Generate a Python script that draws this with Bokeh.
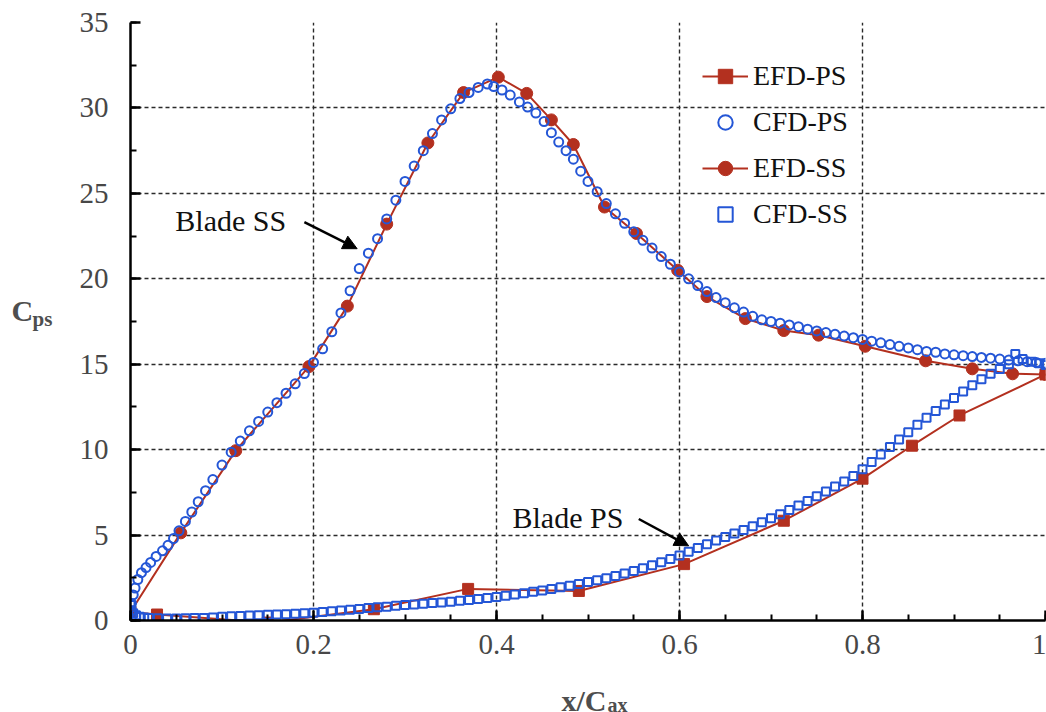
from bokeh.plotting import figure
from bokeh.layouts import row, column
from bokeh.models import (Range1d, SingleIntervalTicker, CustomJSTickFormatter, Legend,
                          LegendItem, Label, Arrow, NormalHead)
from bokeh.core.properties import value
from bokeh.embed import file_html
from bokeh.resources import INLINE

# ---------------- data ----------------
efd_ps_x = [0.000, 0.029, 0.150, 0.266, 0.369, 0.490, 0.605, 0.714, 0.800, 0.854, 0.906, 1.000]
efd_ps_y = [0.50, 0.35, -0.12, 0.66, 1.85, 1.73, 3.30, 5.84, 8.30, 10.23, 12.00, 14.40]

efd_ss_x = [0.000, 0.055, 0.115, 0.195, 0.237, 0.280, 0.325, 0.364, 0.402, 0.433, 0.460, 0.484,
            0.518, 0.553, 0.598, 0.630, 0.672, 0.714, 0.752, 0.803, 0.869, 0.920, 0.964, 1.000]
efd_ss_y = [0.50, 5.13, 9.94, 14.86, 18.40, 23.20, 27.95, 30.90, 31.80, 30.85, 29.30, 27.86,
            24.20, 22.65, 20.50, 18.96, 17.67, 16.97, 16.70, 16.05, 15.20, 14.73, 14.44, 14.40]

cfd_ss_x = [0.000, 0.001, 0.003, 0.005, 0.008, 0.012, 0.017, 0.022, 0.028, 0.035, 0.041, 0.047,
            0.053, 0.060, 0.067, 0.074, 0.082, 0.090, 0.100, 0.110, 0.120, 0.130, 0.140, 0.150,
            0.160, 0.170, 0.180, 0.190, 0.200, 0.210, 0.220, 0.230, 0.240, 0.250, 0.260, 0.270,
            0.280, 0.290, 0.300, 0.310, 0.320, 0.330, 0.340, 0.350, 0.360, 0.370, 0.380, 0.390,
            0.397, 0.406, 0.415, 0.425, 0.434, 0.443, 0.452, 0.460, 0.468, 0.476, 0.484, 0.492,
            0.500, 0.510, 0.520, 0.530, 0.540, 0.550, 0.560, 0.570, 0.580, 0.590, 0.600, 0.610,
            0.620, 0.630, 0.640, 0.650, 0.660, 0.670, 0.680, 0.690, 0.700, 0.710, 0.720, 0.730,
            0.740, 0.750, 0.760, 0.770, 0.780, 0.790, 0.800, 0.810, 0.820, 0.830, 0.840, 0.850,
            0.860, 0.870, 0.880, 0.890, 0.900, 0.910, 0.920, 0.930, 0.940, 0.950, 0.960, 0.970,
            0.980, 0.990, 1.000]
cfd_ss_y = [0.50, 1.00, 1.50, 1.90, 2.40, 2.80, 3.10, 3.40, 3.75, 4.08, 4.40, 4.80,
            5.25, 5.80, 6.35, 6.95, 7.60, 8.25, 9.10, 9.85, 10.50, 11.10, 11.65, 12.20,
            12.75, 13.30, 13.85, 14.45, 15.10, 15.90, 16.90, 18.00, 19.30, 20.60, 21.50, 22.35,
            23.50, 24.60, 25.70, 26.60, 27.50, 28.50, 29.30, 29.95, 30.55, 30.90, 31.20, 31.40,
            31.25, 31.05, 30.75, 30.35, 30.05, 29.70, 29.20, 28.55, 28.00, 27.50, 27.00, 26.30,
            25.70, 25.10, 24.40, 23.80, 23.25, 22.75, 22.25, 21.80, 21.30, 20.85, 20.40, 20.00,
            19.60, 19.25, 18.90, 18.60, 18.30, 18.05, 17.80, 17.60, 17.50, 17.40, 17.30, 17.20,
            17.05, 16.95, 16.85, 16.75, 16.65, 16.55, 16.45, 16.35, 16.25, 16.15, 16.05, 15.95,
            15.85, 15.75, 15.70, 15.60, 15.55, 15.50, 15.45, 15.40, 15.35, 15.30, 15.25, 15.20,
            15.15, 15.10, 15.05]

cfd_ps_x = [0.000, 0.001, 0.003, 0.006, 0.010, 0.015, 0.020, 0.030, 0.040, 0.050, 0.060, 0.070,
            0.080, 0.090, 0.100, 0.110, 0.120, 0.130, 0.140, 0.150, 0.160, 0.170, 0.180, 0.190,
            0.200, 0.210, 0.220, 0.230, 0.240, 0.250, 0.260, 0.270, 0.280, 0.290, 0.300, 0.310,
            0.320, 0.330, 0.340, 0.350, 0.360, 0.370, 0.380, 0.390, 0.400, 0.410, 0.420, 0.430,
            0.440, 0.450, 0.460, 0.470, 0.480, 0.490, 0.500, 0.510, 0.520, 0.530, 0.540, 0.550,
            0.560, 0.570, 0.580, 0.590, 0.600, 0.610, 0.620, 0.630, 0.640, 0.650, 0.660, 0.670,
            0.680, 0.690, 0.700, 0.710, 0.720, 0.730, 0.740, 0.750, 0.760, 0.770, 0.780, 0.790,
            0.800, 0.810, 0.820, 0.830, 0.840, 0.850, 0.860, 0.870, 0.880, 0.890, 0.900, 0.910,
            0.920, 0.930, 0.940, 0.950, 0.960, 0.967, 0.975, 0.985, 0.993, 1.000]
cfd_ps_y = [0.90, 0.60, 0.42, 0.30, 0.22, 0.18, 0.15, 0.13, 0.12, 0.12, 0.13, 0.14,
            0.15, 0.17, 0.22, 0.25, 0.27, 0.29, 0.31, 0.33, 0.35, 0.37, 0.40, 0.43,
            0.46, 0.50, 0.54, 0.58, 0.63, 0.68, 0.73, 0.77, 0.81, 0.86, 0.90, 0.94,
            0.98, 1.02, 1.06, 1.10, 1.15, 1.20, 1.26, 1.32, 1.38, 1.45, 1.52, 1.60,
            1.68, 1.76, 1.85, 1.94, 2.04, 2.14, 2.25, 2.36, 2.48, 2.61, 2.75, 2.90,
            3.06, 3.23, 3.41, 3.60, 3.80, 4.02, 4.24, 4.46, 4.68, 4.88, 5.09, 5.30,
            5.52, 5.75, 5.98, 6.22, 6.47, 6.73, 7.00, 7.27, 7.55, 7.84, 8.14, 8.46,
            8.85, 9.28, 9.72, 10.16, 10.60, 11.02, 11.45, 11.86, 12.26, 12.64, 13.02, 13.40,
            13.77, 14.12, 14.44, 14.72, 15.00, 15.60, 15.30, 15.15, 15.05, 14.95]

legend_labels = ["EFD-PS", "CFD-PS", "EFD-SS", "CFD-SS"]
x_title = ["x/C", "ax"]
y_title = ["C", "ps"]

RED = "#b3301f"
BLUE = "#2456d6"
SERIF = "Liberation Serif"
TICK_COLOR = "#474747"
TITLE_COLOR = "#4e4e4e"

W = 1046
H = 712
LEFT_W = 60
MAIN_W = W - LEFT_W
MAIN_H = 668
BOTTOM_H = H - MAIN_H

# ---------------- main figure ----------------
p = figure(width=MAIN_W, height=MAIN_H, x_range=Range1d(0, 1), y_range=Range1d(0, 35),
           output_backend="svg", toolbar_location=None, title=None,
           min_border_left=130 - LEFT_W, min_border_right=1, min_border_top=22,
           min_border_bottom=MAIN_H - 620)
p.outline_line_color = None
p.background_fill_color = "white"
p.border_fill_color = "white"

p.xaxis.ticker = SingleIntervalTicker(interval=0.2, num_minor_ticks=4)
p.yaxis.ticker = SingleIntervalTicker(interval=5, num_minor_ticks=2)
p.xaxis.formatter = CustomJSTickFormatter(code="return (Math.round(tick*10)/10).toString();")
p.yaxis.formatter = CustomJSTickFormatter(code="return Math.round(tick).toString();")

for ax in (p.xaxis[0], p.yaxis[0]):
    ax.axis_line_width = 2.5
    ax.axis_line_color = "black"
    ax.major_tick_in = 10
    ax.major_tick_out = 0
    ax.minor_tick_in = 6
    ax.minor_tick_out = 0
    ax.major_tick_line_width = 2.5
    ax.minor_tick_line_width = 2
    ax.major_tick_line_color = "black"
    ax.minor_tick_line_color = "black"
    ax.major_label_text_font = SERIF
    ax.major_label_text_font_size = "29px"
    ax.major_label_text_color = TICK_COLOR
p.xaxis.major_label_standoff = 14
p.yaxis.major_label_standoff = 22

for g in (p.xgrid[0], p.ygrid[0]):
    g.grid_line_color = "#2a2a2a"
    g.grid_line_dash = "4 3"
    g.grid_line_width = 1.4

ps_line = p.line(efd_ps_x, efd_ps_y, line_color=RED, line_width=2)
ps_pts = p.scatter(efd_ps_x, efd_ps_y, marker="square", size=11, fill_color=RED, line_color=RED)
ss_line = p.line(efd_ss_x, efd_ss_y, line_color=RED, line_width=2)
ss_pts = p.scatter(efd_ss_x, efd_ss_y, marker="circle", size=12, fill_color=RED, line_color=RED)

cfd_circ = p.scatter(cfd_ss_x, cfd_ss_y, marker="circle", size=9, fill_color=None,
                     line_color=BLUE, line_width=2)
cfd_sq = p.scatter(cfd_ps_x, cfd_ps_y, marker="square", size=8, fill_color=None,
                   line_color=BLUE, line_width=2)

legend = Legend(items=[
    LegendItem(label=legend_labels[0], renderers=[ps_line, ps_pts]),
    LegendItem(label=legend_labels[1], renderers=[cfd_circ]),
    LegendItem(label=legend_labels[2], renderers=[ss_line, ss_pts]),
    LegendItem(label=legend_labels[3], renderers=[cfd_sq]),
])
legend.location = (562, 378)
legend.background_fill_alpha = 0
legend.border_line_alpha = 0
legend.glyph_width = 46
legend.glyph_height = 36
legend.label_height = 36
legend.spacing = 10
legend.padding = 10
legend.margin = 0
legend.label_standoff = 5
legend.label_text_font = SERIF
legend.label_text_font_size = "28px"
legend.label_text_color = "#111111"
p.add_layout(legend)

p.add_layout(Label(x=0.049, y=23.42, text="Blade SS", text_font=SERIF, text_font_size="30px",
                   text_color="#111111", text_baseline="alphabetic"))
p.add_layout(Label(x=0.4175, y=6.01, text="Blade PS", text_font=SERIF, text_font_size="30px",
                   text_color="#111111", text_baseline="alphabetic"))
p.add_layout(Arrow(end=NormalHead(size=14, fill_color="black", line_color="black"),
                   x_start=0.190, y_start=23.32, x_end=0.2477, y_end=21.76,
                   line_width=2.5, line_color="black"))
p.add_layout(Arrow(end=NormalHead(size=14, fill_color="black", line_color="black"),
                   x_start=0.5555, y_start=5.94, x_end=0.610, y_end=4.37,
                   line_width=2.5, line_color="black"))

# ---------------- title strips (pixel coordinates, y down) ----------------
def strip(w, h):
    f = figure(width=w, height=h, x_range=Range1d(0, w), y_range=Range1d(h, 0),
               output_backend="svg", toolbar_location=None, title=None,
               x_axis_type=None, y_axis_type=None,
               min_border=0, min_border_left=0, min_border_right=0,
               min_border_top=0, min_border_bottom=0)
    f.outline_line_color = None
    f.grid.visible = False
    f.background_fill_color = "white"
    f.border_fill_color = "white"
    return f

# bottom strip spans the full width: x in canvas pixels, y measured from the strip's top
pb = strip(W, BOTTOM_H)
pb.text(x=[561], y=[700 - MAIN_H], text=[x_title[0]], text_font=value(SERIF),
        text_font_size="30px", text_font_style="bold", text_color=TITLE_COLOR,
        text_baseline="alphabetic")
pb.text(x=[607], y=[704 - MAIN_H], text=[x_title[1]], text_font=value(SERIF),
        text_font_size="20px", text_font_style="bold", text_color=TITLE_COLOR,
        text_baseline="alphabetic")

pl = strip(LEFT_W, MAIN_H)
pl.text(x=[11], y=[322], text=[y_title[0]], text_font=value(SERIF),
        text_font_size="30px", text_font_style="bold", text_color=TITLE_COLOR,
        text_baseline="alphabetic")
pl.text(x=[32], y=[331], text=[y_title[1]], text_font=value(SERIF),
        text_font_size="21px", text_font_style="bold", text_color=TITLE_COLOR,
        text_baseline="alphabetic")

layout = column(row(pl, p, spacing=0), pb, spacing=0)

open("out.html", "w").write(file_html(layout, INLINE))
